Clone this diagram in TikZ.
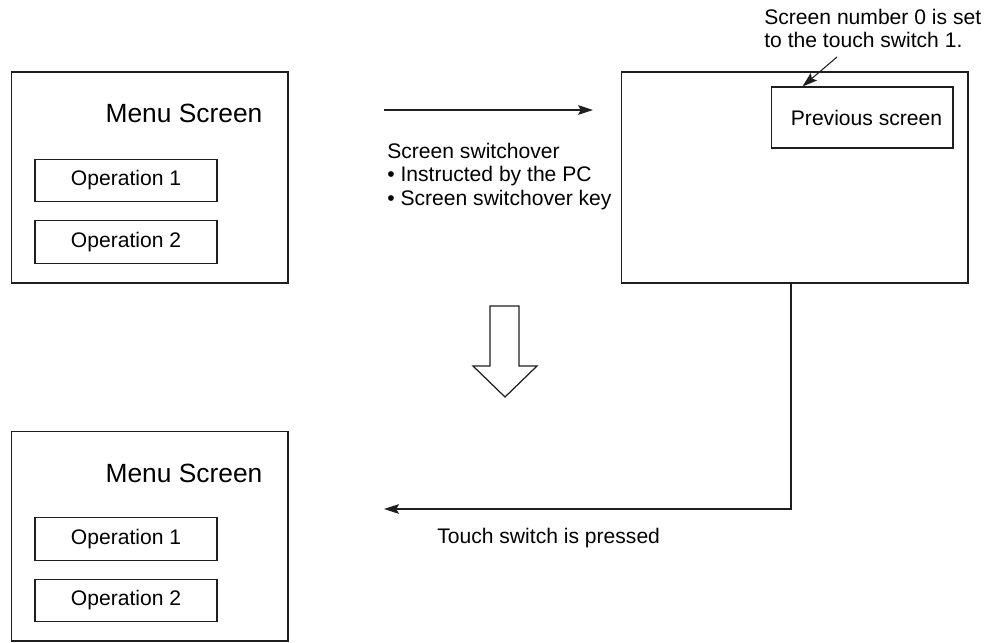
\documentclass[tikz,border=0pt]{standalone}
\usepackage{fontspec}
\setmainfont{Liberation Sans}
\usetikzlibrary{arrows.meta}
\definecolor{linecol}{gray}{0.12}
\tikzset{
  scrbox/.style={draw=linecol,line width=0.6pt,inner sep=0pt,minimum height=4.22cm},
  opbox/.style={draw=linecol,line width=0.6pt,inner sep=0pt,minimum width=3.64cm,minimum height=0.85cm,font=\fontsize{12}{14}\selectfont},
  ttl/.style={font=\fontsize{15}{18}\selectfont,inner sep=0pt,anchor=base},
  txt/.style={font=\fontsize{12}{13.3}\selectfont,inner sep=0pt,align=left},
  conn/.style={draw=linecol,line width=0.6pt,-{Stealth[length=8.5pt,width=5.5pt,inset=1.5pt]}},
  bigarrow/.style={draw=linecol,line width=0.7pt,fill=white,line join=miter},
}
\begin{document}
\begin{tikzpicture}[x=0.02cm,y=-0.02cm]
  \useasboundingbox (0,0) rectangle (1006,642);
  \node[scrbox,minimum width=5.54cm] (menuA) at (149.5,177.5) {};
  \node[ttl] (titleA) at (184,122) {Menu Screen};
  \node[opbox] (opA1) at (126,180.5) {Operation 1};
  \node[opbox] (opA2) at (126,242) {Operation 2};
  \node[scrbox,minimum width=6.94cm] (scrB) at (794.5,177.5) {};
  \node[opbox,minimum height=1.22cm] (prevscr) at (862,117.5) {\hspace*{0.18cm}Previous screen};
  \node[scrbox,minimum width=5.54cm,minimum height=4.2cm] (menuC) at (149.5,536) {};
  \node[ttl] (titleC) at (184,482) {Menu Screen};
  \node[opbox] (opC1) at (126,539) {Operation 1};
  \node[opbox] (opC2) at (126,600.5) {Operation 2};
  \node[txt,anchor=north west] (swtext) at (387,143) {Screen switchover\\
    \textbullet{} Instructed by the PC\\
    \textbullet{} Screen switchover key};
  \node[txt,anchor=north west] (note) at (764,9) {Screen number 0 is set\\to the touch switch 1.};
  \node[txt,anchor=base west] (presstext) at (437,543) {Touch switch is pressed};
  \coordinate (swA) at (384,110);
  \coordinate (swB) at (593,110);
  \coordinate (noteTail) at (837,57);
  \coordinate (retEnd) at (384,509);
  \draw[conn] (swA) -- (swB);
  \draw[conn] (noteTail) -- ([xshift=0.64cm]prevscr.north west);
  \draw[conn] ([xshift=-0.07cm]scrB.south) |- (retEnd);
  \draw[bigarrow] (490,306) -- (519,306) -- (519,366) -- (537,366) -- (505,397) -- (473,366) -- (490,366) -- cycle;
\end{tikzpicture}
\end{document}
